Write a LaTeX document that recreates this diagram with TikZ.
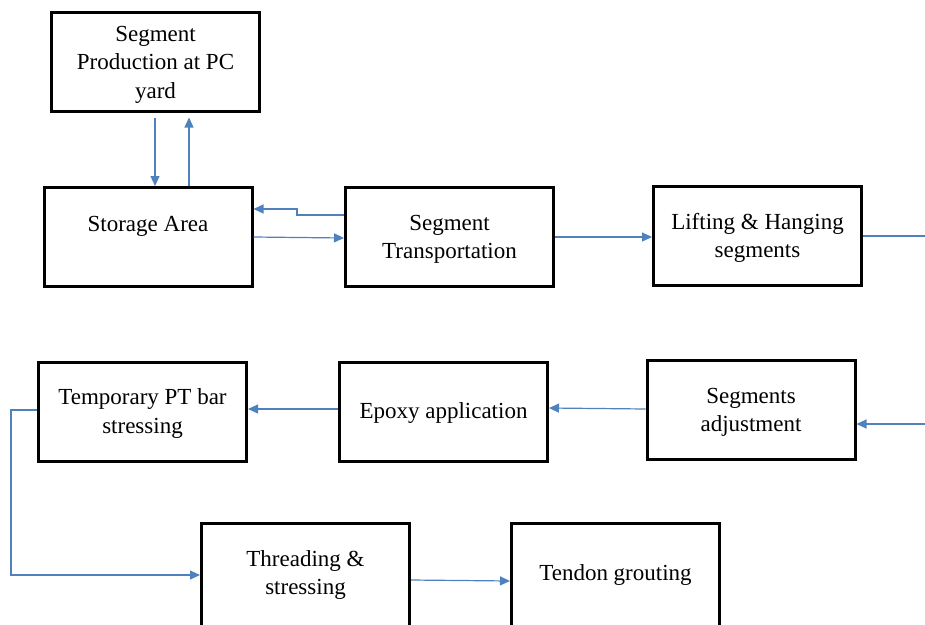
\documentclass[tikz,border=0pt]{standalone}
\usepackage{fontspec}
\setmainfont{Liberation Serif}
\usetikzlibrary{arrows.meta,calc}
\definecolor{flowblue}{RGB}{79,129,189}
\begin{document}
\begin{tikzpicture}[x=1pt,y=-1pt,
  stage/.style={draw=black,line width=3pt,minimum width=208pt,minimum height=99pt,inner sep=0pt},
  lbl/.style={align=center,font=\fontsize{23}{28.5}\selectfont,inner sep=0pt},
  arr/.style={draw=flowblue,line width=1.2pt,-{Triangle[length=10pt,width=9pt]}},
  ln/.style={draw=flowblue,line width=1.2pt}]
\useasboundingbox (0,0) rectangle (925,624);

% process boxes
\node[stage] (pc) at (155.5,61.5) {};
\node[stage] (st) at (148,237) {};
\node[stage] (tr) at (449.5,237) {};
\node[stage] (lh) at (757.5,236) {};
\node[stage] (tp) at (142.5,411.5) {};
\node[stage] (ep) at (443.5,411.5) {};
\node[stage] (sa) at (751,410) {};
\node[stage,minimum height=104pt] (th) at (305.5,575) {};
\node[stage,minimum height=104pt] (tg) at (615.5,575) {};

% box captions
\node[lbl] (pct) at (155.5,64.5) {Segment\\Production at PC\\yard};
\node[lbl] (stt) at (148,226.5) {Storage Area};
\node[lbl] (trt) at (449.5,239.5) {Segment\\Transportation};
\node[lbl] (lht) at (757.5,238) {Lifting \& Hanging\\segments};
\node[lbl] (tpt) at (142.5,413.5) {Temporary PT bar\\stressing};
\node[lbl] (ept) at (443.5,412.5) {Epoxy application};
\node[lbl] (sat) at (751,412.5) {Segments\\adjustment};
\node[lbl] (tht) at (305.5,575) {Threading \&\\stressing};
\node[lbl] (tgt) at (615.5,574.5) {Tendon grouting};

% loose ends at the page edge and bends
\coordinate (eout) at (925,236);
\coordinate (ein) at (925,424);
\coordinate (bk1) at (297,215);
\coordinate (bk2) at (297,209);
\coordinate (lf1) at (11,410);
\coordinate (lf2) at (11,575);

% connectors
\draw[arr] ($(pc.south)+(-0.5,5)$) -- (155,0 |- st.north);
\draw[arr] (189,0 |- st.north) -- ($(pc.south)+(33.5,5)$);
\draw[arr] (tr.west |- bk1) -- (bk1) -- (bk2) -- (st.east |- bk2);
\draw[arr] (st.east |- 0,237) -- (tr.west |- 0,238);
\draw[arr] (tr.east |- 0,237) -- (lh.west |- 0,237);
\draw[ln] (lh.east |- eout) -- (eout);
\draw[arr] (ein) -- (sa.east |- ein);
\draw[arr] (sa.west |- 0,409) -- (ep.east |- 0,408);
\draw[arr] (ep.west |- 0,409) -- (tp.east |- 0,409);
\draw[arr] (tp.west |- lf1) -- (lf1) -- (lf2) -- (th.west |- lf2);
\draw[arr] (th.east |- 0,580) -- (tg.west |- 0,581);
\end{tikzpicture}
\end{document}
